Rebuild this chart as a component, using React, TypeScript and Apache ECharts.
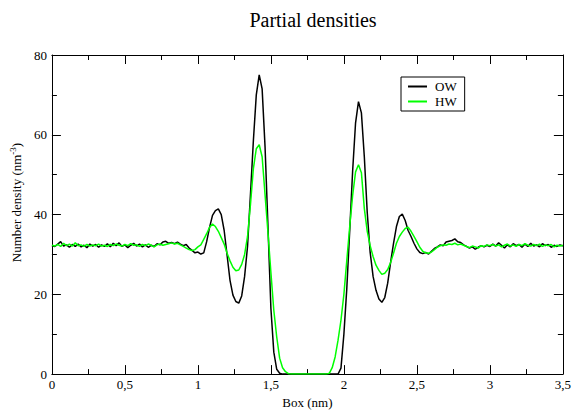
import React, { useEffect, useRef } from "react";
import * as echarts from "echarts";

const title = "Partial densities";
const xName = "Box (nm)";
const yName = "Number density (nm{sup|-3})";
const seriesNames = ["OW", "HW"];
const xStep = 0.02;

// OW number density, sampled every 0.02 nm from 0 to 3.5
const ow = [
  32.2, 32.0, 32.6, 33.2, 32.1, 32.4, 31.8, 32.5, 32.0, 32.6,
  31.9, 32.3, 31.7, 32.6, 32.1, 32.5, 31.8, 32.4, 32.0, 32.7,
  31.9, 32.8, 32.2, 32.9, 32.0, 32.4, 31.7, 32.3, 32.8, 32.1,
  32.6, 31.9, 32.4, 31.8, 32.3, 32.0, 32.7, 32.4, 33.1, 33.3,
  32.8, 33.0, 32.7, 33.1, 32.6, 32.2, 32.5, 31.6, 31.0, 30.4,
  30.6, 30.1, 30.4, 33.2, 36.8, 39.8, 41.0, 41.4, 40.0, 36.0,
  29.8, 23.5, 19.8, 18.2, 17.8, 19.6, 24.5, 32.0, 45.0, 58.5,
  70.0, 75.0, 71.5, 57.0, 37.0, 16.5, 5.5, 1.2, 0.2, 0,
  0, 0, 0, 0, 0, 0, 0, 0, 0, 0,
  0, 0, 0, 0, 0, 0, 0, 0, 0, 1.5,
  10.0, 21.5, 36.0, 51.0, 63.0, 68.3, 65.5, 54.5, 40.5, 30.5,
  24.5, 21.0, 18.8, 18.0, 19.2, 22.8, 28.0, 32.8, 37.0, 39.5,
  40.1, 38.5, 36.0, 34.5, 32.8, 31.4, 30.5, 30.2, 30.5, 30.1,
  30.8, 31.5, 31.9, 32.4, 32.2, 33.1, 33.3, 33.5, 33.9, 33.2,
  33.0, 32.4, 32.0, 31.6, 31.9, 31.3, 31.8, 32.2, 31.9, 32.3,
  32.0, 32.6, 32.1, 32.9, 32.3, 31.6, 32.4, 31.9, 32.7, 32.2,
  32.5, 31.8, 32.6, 32.0, 32.8, 32.1, 32.4, 31.9, 32.7, 32.2,
  32.5, 31.8, 32.3, 32.0, 32.4, 32.1,
];

// HW number density, sampled every 0.02 nm from 0 to 3.5
const hw = [
  32.3, 32.1, 32.5, 32.0, 32.8, 32.2, 32.6, 32.1, 32.9, 32.2,
  32.4, 32.0, 32.5, 32.1, 32.4, 32.2, 32.6, 32.1, 32.3, 32.0,
  32.5, 32.2, 32.6, 32.3, 32.1, 32.5, 32.2, 32.7, 32.3, 32.4,
  32.0, 32.5, 32.2, 32.6, 32.3, 31.9, 32.4, 32.6, 32.3, 32.5,
  32.7, 32.9, 32.6, 32.8, 32.4, 32.0, 31.6, 31.2, 31.0, 31.2,
  31.9, 32.4, 33.8, 35.2, 36.8, 37.6, 37.0, 35.8, 34.2, 32.6,
  30.3, 28.4, 26.8, 25.9, 26.1, 27.5, 30.0, 34.5, 42.5, 51.5,
  56.5, 57.5, 54.5, 45.0, 35.5, 25.5, 16.0, 9.3, 4.0, 1.6,
  0.6, 0.1, 0, 0, 0, 0, 0, 0, 0, 0,
  0, 0, 0, 0, 0, 0.2, 1.6, 4.3, 8.5, 13.5,
  20.0, 28.5, 37.0, 44.8, 50.7, 52.5, 50.5, 41.5, 35.8, 32.2,
  29.5, 27.3, 26.0, 25.0, 25.3, 26.2, 28.0, 30.3, 32.8, 34.5,
  35.6, 36.5, 36.8, 35.8, 34.5, 33.2, 31.8, 30.8, 30.4, 30.3,
  30.6, 31.2, 31.8, 32.2, 32.4, 32.3, 32.6, 32.5, 32.8, 32.4,
  32.6, 32.3, 32.0, 31.7, 32.1, 31.9, 31.6, 32.2, 32.0, 32.4,
  32.2, 32.5, 32.1, 32.4, 31.9, 32.3, 32.6, 32.1, 32.4, 32.0,
  32.5, 32.2, 32.7, 32.3, 32.1, 32.5, 32.2, 32.6, 32.0, 32.4,
  32.2, 32.5, 31.9, 32.3, 32.1, 32.3,
];

const FONT = "Liberation Serif";

export default function App() {
  const ref = useRef<HTMLDivElement>(null);

  useEffect(() => {
    document.body.style.margin = "0";
    if (!ref.current) return;
    const chart = echarts.init(ref.current, null, { renderer: "svg" });
    const toPairs = (arr: number[]) =>
      arr.map((v, i) => [Number((i * xStep).toFixed(2)), v]);

    const baseX = {
      type: "value" as const,
      min: 0,
      max: 3.5,
      interval: 0.5,
      splitLine: { show: false },
      axisLine: { show: true, onZero: false, lineStyle: { color: "#000", width: 1 } },
      axisTick: { show: true, inside: true, length: 9, lineStyle: { color: "#000" } },
      minorTick: { show: true, splitNumber: 2, length: 5, lineStyle: { color: "#000" } },
    };
    const baseY = {
      type: "value" as const,
      min: 0,
      max: 80,
      interval: 20,
      splitLine: { show: false },
      axisLine: { show: true, onZero: false, lineStyle: { color: "#000", width: 1 } },
      axisTick: { show: true, inside: true, length: 9, lineStyle: { color: "#000" } },
      minorTick: { show: true, splitNumber: 2, length: 5, lineStyle: { color: "#000" } },
    };

    chart.setOption({
      animation: false,
      backgroundColor: "#fff",
      textStyle: { fontFamily: FONT },
      title: {
        text: title,
        left: 308,
        textAlign: "center",
        top: 5,
        textStyle: { fontFamily: FONT, fontSize: 20, fontWeight: "normal", color: "#000" },
      },
      legend: {
        orient: "vertical",
        left: 401,
        top: 77,
        padding: [3, 8, 3, 6],
        itemGap: 2,
        itemWidth: 19,
        itemHeight: 12,
        borderColor: "#000",
        borderWidth: 1,
        itemStyle: { opacity: 0 },
        textStyle: { fontFamily: FONT, fontSize: 13, color: "#000", padding: [0, 0, 0, 3] },
        data: seriesNames,
      },
      grid: { left: 50, top: 55, width: 515, height: 327 },
      xAxis: [
        {
          ...baseX,
          position: "bottom",
          name: xName,
          nameLocation: "middle",
          nameGap: 17,
          nameTextStyle: { fontFamily: FONT, fontSize: 13, color: "#000" },
          axisLabel: {
            show: true,
            margin: 4,
            fontFamily: FONT,
            fontSize: 13,
            color: "#000",
            formatter: (v: number) => String(v).replace(".", ","),
          },
        },
        {
          ...baseX,
          position: "top",
          axisLabel: { show: false },
        },
      ],
      yAxis: [
        {
          ...baseY,
          position: "left",
          name: yName,
          nameLocation: "middle",
          nameGap: 22,
          nameRotate: 90,
          nameTextStyle: {
            fontFamily: FONT,
            fontSize: 13,
            color: "#000",
            padding: [0, 0, 0, 24],
            rich: {
              sup: { fontFamily: FONT, fontSize: 9, color: "#000", verticalAlign: "top", padding: [0, 0, 8, 0] },
            },
          },
          axisLabel: { show: true, margin: 5, fontFamily: FONT, fontSize: 13, color: "#000" },
        },
        {
          ...baseY,
          position: "right",
          axisLabel: { show: false },
        },
      ],
      series: [
        {
          name: seriesNames[0],
          type: "line",
          data: toPairs(ow),
          symbol: "none",
          lineStyle: { color: "#000", width: 1.5 },
          itemStyle: { color: "#000" },
          z: 2,
        },
        {
          name: seriesNames[1],
          type: "line",
          data: toPairs(hw),
          symbol: "none",
          lineStyle: { color: "#00ff00", width: 1.5 },
          itemStyle: { color: "#00ff00" },
          z: 3,
        },
      ],
    });
    return () => chart.dispose();
  }, []);

  return <div ref={ref} style={{ width: 574, height: 414, background: "#fff" }} />;
}
